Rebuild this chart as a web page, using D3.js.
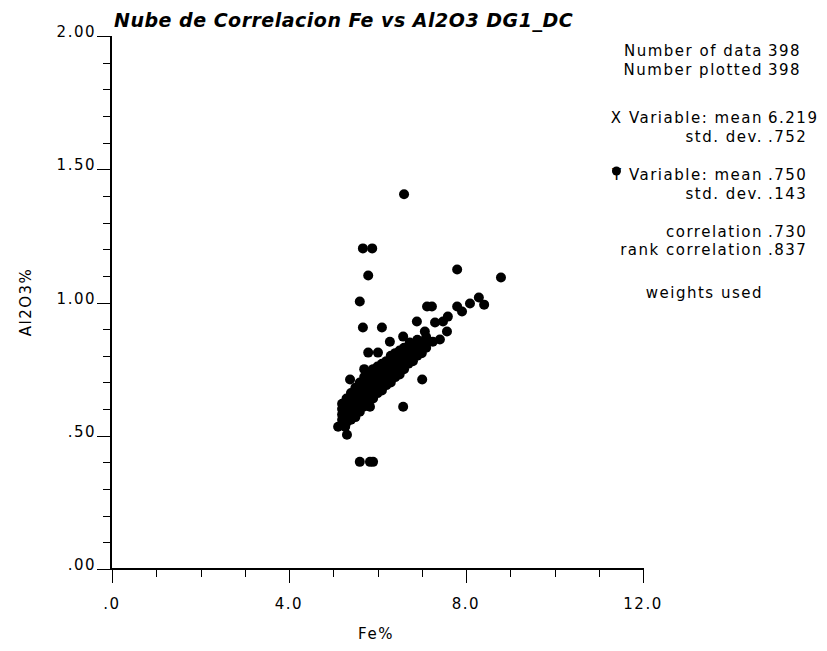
<!DOCTYPE html>
<html>
<head>
<meta charset="utf-8">
<script src="https://cdn.jsdelivr.net/npm/d3@7"></script>
<style>
  body { margin: 0; background: #fff; }
  text { font-family: "DejaVu Sans", sans-serif; fill: #000; font-size: 15px; letter-spacing: 1.5px; }
</style>
</head>
<body>
<script>
// outlying samples (Fe%, Al2O3%)
var outlierFe = [6.60, 5.67, 5.88, 5.79, 7.80, 8.79, 5.60, 7.12, 7.23, 7.80,
                 7.91, 8.09, 8.29, 8.41, 5.67, 6.10, 6.89, 7.30, 7.48, 7.57,
                 7.07, 6.28, 6.58, 6.73, 7.25, 7.41, 7.59, 5.79, 6.01, 5.38,
                 7.01, 6.58, 5.83, 5.11, 5.27, 5.31, 5.60, 5.83, 5.90];
var outlierAl = [1.406, 1.203, 1.203, 1.101, 1.124, 1.094, 1.004, .985, .985, .985,
                 .966, .996, 1.019, .992, .906, .906, .929, .925, .929, .891,
                 .891, .853, .872, .850, .853, .861, .947, .812, .812, .711,
                 .711, .609, .609, .534, .534, .504, .402, .402, .402];

// main cloud, Fe% columns with the Al2O3% values read in each
var bandFe = [5.2, 5.3, 5.4, 5.5, 5.6, 5.7, 5.8, 5.9, 6.0, 6.1,
              6.2, 6.3, 6.4, 6.5, 6.6, 6.7, 6.8, 6.9, 7.0, 7.1];
var bandAl = [
  [.54, .56, .58, .60, .62],
  [.55, .57, .59, .61, .64],
  [.56, .58, .61, .63, .66],
  [.57, .60, .62, .65, .68],
  [.59, .62, .64, .67, .70],
  [.61, .63, .66, .69, .72, .75],
  [.62, .65, .68, .70, .73],
  [.64, .67, .69, .72, .75],
  [.66, .68, .71, .73, .76],
  [.67, .70, .72, .75, .77],
  [.69, .71, .74, .76, .78],
  [.70, .73, .75, .77, .80],
  [.72, .74, .76, .79, .81],
  [.73, .76, .78, .80, .82],
  [.75, .77, .79, .81, .83],
  [.77, .79, .81, .83],
  [.78, .80, .82, .84],
  [.80, .82, .84, .86],
  [.81, .83, .85],
  [.83, .85, .87]
];

var xTicks = [0, 4, 8, 12];
var xTickLabels = [".0", "4.0", "8.0", "12.0"];
var yTicks = [0, .5, 1, 1.5, 2];
var yTickLabels = [".00", ".50", "1.00", "1.50", "2.00"];

var statLabels = ["Number of data", "Number plotted", "X Variable: mean", "std. dev.",
                  "Y Variable: mean", "std. dev.", "correlation", "rank correlation", "weights used"];
var statValues = ["398", "398", "6.219", ".752", ".750", ".143", ".730", ".837", ""];

var title = "Nube de Correlacion Fe vs Al2O3 DG1_DC";

// build the point list
var dataset = [];
for (var i = 0; i < outlierFe.length; i++) {
  dataset.push({fe: outlierFe[i], al: outlierAl[i]});
}
bandFe.forEach(function(fe, i) {
  bandAl[i].forEach(function(al) {
    dataset.push({fe: fe, al: al});
  });
});

var width = 827, height = 651;

var svg = d3.select("body")
            .append("svg")
            .attr("width", width)
            .attr("height", height);

var xScale = d3.scaleLinear().domain([0, 12]).range([112, 643]);
var yScale = d3.scaleLinear().domain([0, 2]).range([569, 36]);

// minor ticks
var xMinor = d3.range(0, 12.01, 1);
var yMinor = d3.range(0, 2.001, 0.1);

svg.selectAll(".xminor")
  .data(xMinor)
  .enter()
  .append("line")
  .attr("x1", function(d) { return Math.round(xScale(d)) + 0.5; })
  .attr("x2", function(d) { return Math.round(xScale(d)) + 0.5; })
  .attr("y1", 569)
  .attr("y2", function(d) { return xTicks.indexOf(d) >= 0 ? 583 : 577; })
  .attr("stroke", "#000")
  .attr("stroke-width", 1);

svg.selectAll(".yminor")
  .data(yMinor)
  .enter()
  .append("line")
  .attr("y1", function(d) { return Math.round(yScale(d)) + 0.5; })
  .attr("y2", function(d) { return Math.round(yScale(d)) + 0.5; })
  .attr("x1", function(d) {
    var major = yTicks.some(function(t) { return Math.abs(t - d) < 1e-6; });
    return major ? 97 : 103;
  })
  .attr("x2", 112)
  .attr("stroke", "#000")
  .attr("stroke-width", 1);

// axis lines
svg.append("line")
  .attr("x1", 111).attr("x2", 111)
  .attr("y1", yScale(2)).attr("y2", 570)
  .attr("stroke", "#000").attr("stroke-width", 2);
svg.append("line")
  .attr("x1", 110).attr("x2", xScale(12) + 1)
  .attr("y1", 569).attr("y2", 569)
  .attr("stroke", "#000").attr("stroke-width", 2);

// tick labels
svg.selectAll(".xlab")
  .data(xTicks)
  .enter()
  .append("text")
  .attr("x", function(d) { return xScale(d); })
  .attr("y", 609)
  .attr("text-anchor", "middle")
  .text(function(d, i) { return xTickLabels[i]; });

svg.selectAll(".ylab")
  .data(yTicks)
  .enter()
  .append("text")
  .attr("x", 96)
  .attr("y", function(d) { return yScale(d) + 1; })
  .attr("text-anchor", "end")
  .text(function(d, i) { return yTickLabels[i]; });

// axis titles
svg.append("text")
  .attr("x", 376)
  .attr("y", 639)
  .attr("text-anchor", "middle")
  .text("Fe%");

svg.append("text")
  .attr("transform", "translate(31,302) rotate(-90)")
  .attr("text-anchor", "middle")
  .text("Al2O3%");

// chart title
svg.append("text")
  .attr("x", 114)
  .attr("y", 27)
  .style("font-size", "19px")
  .style("letter-spacing", "0.5px")
  .style("font-weight", "bold")
  .style("font-style", "italic")
  .text(title);

// scatter dots
svg.selectAll("circle.pt")
  .data(dataset)
  .enter()
  .append("circle")
  .attr("class", "pt")
  .attr("cx", function(d) { return xScale(d.fe); })
  .attr("cy", function(d) { return yScale(d.al); })
  .attr("r", 5)
  .attr("fill", "#000");

// statistics block
var statY = [56, 75, 123, 142, 180, 199, 237, 255, 298];
var statText = svg.selectAll(".slab")
  .data(statLabels)
  .enter()
  .append("text")
  .attr("class", "slab")
  .attr("x", 763)
  .attr("y", function(d, i) { return statY[i]; })
  .attr("text-anchor", "end")
  .text(function(d) { return d; });

svg.selectAll(".sval")
  .data(statValues)
  .enter()
  .append("text")
  .attr("class", "sval")
  .attr("x", 768)
  .attr("y", function(d, i) { return statY[i]; })
  .text(function(d) { return d; });

// plot marker sitting on the Y of "Y Variable"
var yRow = statText.filter(function(d, i) { return i == 4; }).node();
var box = yRow.getBBox();
svg.append("circle")
  .attr("cx", box.x + 5.5)
  .attr("cy", statY[4] - 9)
  .attr("r", 4.5)
  .attr("fill", "#000");
</script>
</body>
</html>
